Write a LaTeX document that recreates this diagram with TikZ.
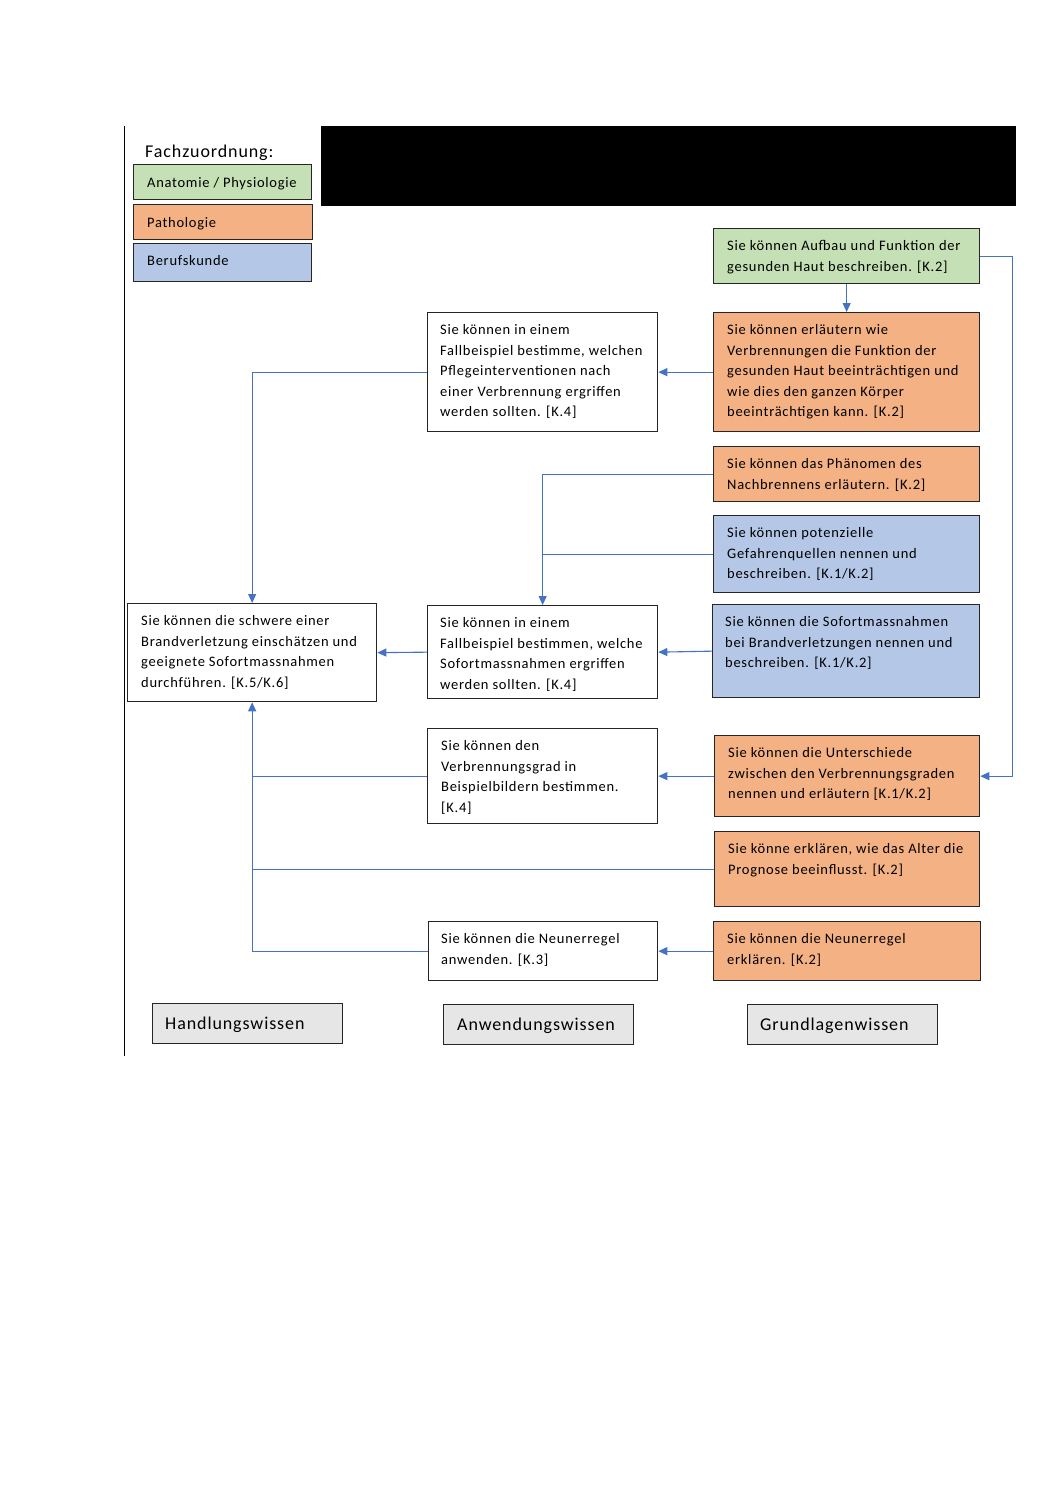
\documentclass[tikz,border=0pt]{standalone}
\usepackage{fontspec}
\setmainfont{Carlito}[LetterSpace=5]
\usetikzlibrary{arrows.meta}
\definecolor{cgreen}{HTML}{C5E0B4}
\definecolor{corange}{HTML}{F4B183}
\definecolor{cblue}{HTML}{B4C7E7}
\definecolor{cgray}{HTML}{E7E6E6}
\definecolor{cline}{HTML}{4472C4}
\begin{document}
\begin{tikzpicture}[x=1pt,y=-1pt,
 box/.style={draw=black!85, line width=1.3pt, inner sep=0pt, anchor=north west},
 txt/.style={anchor=north west, inner sep=0pt, align=left, font=\fontsize{14.5}{20.5}\selectfont},
 ltxt/.style={anchor=base west, inner sep=0pt, font=\fontsize{14.5}{20.5}\selectfont},
 btxt/.style={anchor=base west, inner sep=0pt, font=\fontsize{18}{20}\selectfont},
 conn/.style={draw=cline, line width=1.1pt},
 arr/.style={conn, -{Triangle[length=9pt,width=8pt]}},
]
\useasboundingbox[fill=white] (0,0) rectangle (1058,1497);

% frame elements
\draw[black, line width=1pt] (124,126) -- (124,1056);
\fill[black] (321,126) rectangle (1016,206);

% legend
\node[btxt] (fz) at (145,157) {Fachzuordnung:};
\node[box, fill=cgreen, minimum width=178pt, minimum height=35pt] (l1) at (133,164) {};
\node[box, fill=corange, minimum width=179pt, minimum height=35pt] (l2) at (133,204) {};
\node[box, fill=cblue, minimum width=178pt, minimum height=38pt] (l3) at (133,243) {};
\node[ltxt] (l1t) at (147,187) {Anatomie / Physiologie};
\node[ltxt] (l2t) at (147,227) {Pathologie};
\node[ltxt] (l3t) at (147,265) {Berufskunde};

% boxes
\node[box, fill=cgreen, minimum width=266pt, minimum height=55pt] (g1) at (713,228) {};
\node[box, fill=corange, minimum width=266pt, minimum height=119pt] (o1) at (713,312) {};
\node[box, fill=white, minimum width=230pt, minimum height=119pt] (w1) at (427,312) {};
\node[box, fill=corange, minimum width=266pt, minimum height=55pt] (o2) at (713,446) {};
\node[box, fill=cblue, minimum width=266pt, minimum height=77pt] (b1) at (713,515) {};
\node[box, fill=cblue, minimum width=267pt, minimum height=93pt] (b2) at (712,604) {};
\node[box, fill=white, minimum width=230pt, minimum height=93pt] (w2) at (427,605) {};
\node[box, fill=white, minimum width=249pt, minimum height=98pt] (w3) at (127,603) {};
\node[box, fill=white, minimum width=230pt, minimum height=95pt] (w4) at (427,728) {};
\node[box, fill=corange, minimum width=265pt, minimum height=81pt] (o3) at (714,735) {};
\node[box, fill=corange, minimum width=265pt, minimum height=75pt] (o4) at (714,831) {};
\node[box, fill=white, minimum width=229pt, minimum height=59pt] (w5) at (428,921) {};
\node[box, fill=corange, minimum width=267pt, minimum height=59pt] (o5) at (713,921) {};

% bottom category boxes
\node[box, fill=cgray, minimum width=190pt, minimum height=40pt] (gh) at (152,1003) {};
\node[box, fill=cgray, minimum width=190pt, minimum height=40pt] (ga) at (443,1004) {};
\node[box, fill=cgray, minimum width=190pt, minimum height=40pt] (gg) at (747,1004) {};
\node[btxt] (ght) at (165,1029) {Handlungswissen};
\node[btxt] (gat) at (457,1030) {Anwendungswissen};
\node[btxt] (ggt) at (760,1030) {Grundlagenwissen};

% texts
\node[txt] (g1t) at (727,236) {\strut Sie können Aufbau und Funktion der\\gesunden Haut beschreiben. [K.2]};
\node[txt] (o1t) at (727,320) {\strut Sie können erläutern wie\\Verbrennungen die Funktion der\\gesunden Haut beeinträchtigen und\\wie dies den ganzen Körper\\beeinträchtigen kann. [K.2]};
\node[txt] (w1t) at (440,320) {\strut Sie können in einem\\Fallbeispiel bestimme, welchen\\Pflegeinterventionen nach\\einer Verbrennung ergriffen\\werden sollten. [K.4]};
\node[txt] (o2t) at (727,454) {\strut Sie können das Phänomen des\\Nachbrennens erläutern. [K.2]};
\node[txt] (b1t) at (727,523) {\strut Sie können potenzielle\\Gefahrenquellen nennen und\\beschreiben. [K.1/K.2]};
\node[txt] (b2t) at (725,612) {\strut Sie können die Sofortmassnahmen\\bei Brandverletzungen nennen und\\beschreiben. [K.1/K.2]};
\node[txt] (w2t) at (440,613) {\strut Sie können in einem\\Fallbeispiel bestimmen, welche\\Sofortmassnahmen ergriffen\\werden sollten. [K.4]};
\node[txt] (w3t) at (141,611) {\strut Sie können die schwere einer\\Brandverletzung einschätzen und\\geeignete Sofortmassnahmen\\durchführen. [K.5/K.6]};
\node[txt] (w4t) at (441,736) {\strut Sie können den\\Verbrennungsgrad in\\Beispielbildern bestimmen.\\{[K.4]}};
\node[txt] (o3t) at (728,743) {\strut Sie können die Unterschiede\\zwischen den Verbrennungsgraden\\nennen und erläutern [K.1/K.2]};
\node[txt] (o4t) at (728,839) {\strut Sie könne erklären, wie das Alter die\\Prognose beeinflusst. [K.2]};
\node[txt] (w5t) at (441,929) {\strut Sie können die Neunerregel\\anwenden. [K.3]};
\node[txt] (o5t) at (727,929) {\strut Sie können die Neunerregel\\erklären. [K.2]};

% connectors
\draw[arr] (g1.south) -- (o1.north);
\draw[arr] (g1.east) -- ++(32,0) |- (o3.east);
\draw[arr] (o1.west) -- (w1.east);
\draw[arr] (w1.west) -| (w3.north);
\draw[arr] (o2.west) -| (w2.north);
\draw[conn] (b1.west) -- (b1.west -| w2.north);
\draw[arr] (b2.west) -- (w2.east);
\draw[arr] (w2.west) -- (w3.east);
\draw[arr] (w4.west) -| (w3.south);
\draw[arr] (o3.west) -- (w4.east);
\draw[conn] (o4.west) -- (o4.west -| w3.south);
\draw[conn] (w5.west) -| (w4.west -| w3.south);
\draw[arr] (o5.west) -- (w5.east);
\end{tikzpicture}
\end{document}
